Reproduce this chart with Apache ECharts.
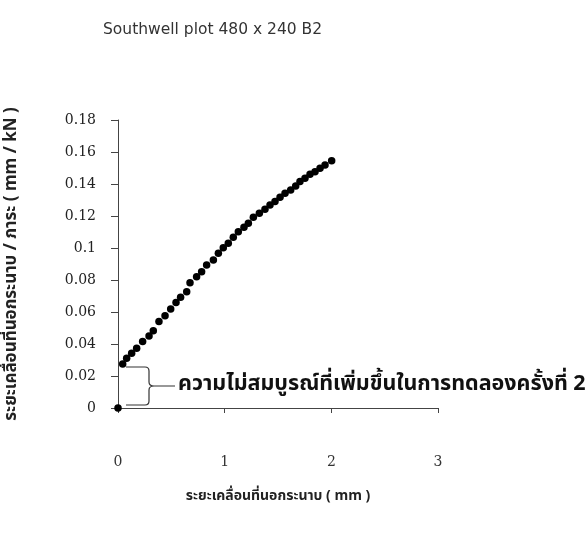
<!DOCTYPE html>
<html>
<head>
<meta charset="utf-8">
<script src="https://cdn.jsdelivr.net/npm/echarts@6/dist/echarts.min.js"></script>
<style>
  html, body { margin: 0; padding: 0; background: #fff; }
  #chart { width: 588px; height: 535px; }
</style>
</head>
<body>
<div id="chart"></div>
<script>
// Out-of-plane displacement (mm)
const displacement = [
  0,
  0.044, 0.081, 0.128, 0.175, 0.231, 0.291, 0.331, 0.384, 0.441, 0.494,
  0.544, 0.587, 0.644, 0.675, 0.737, 0.784, 0.831, 0.894, 0.941, 0.987,
  1.034, 1.081, 1.128, 1.181, 1.222, 1.269, 1.325, 1.378, 1.425, 1.472,
  1.519, 1.566, 1.619, 1.666, 1.706, 1.753, 1.800, 1.847, 1.894, 1.941,
  2.003
];
// Displacement / load (mm/kN)
const ratio = [
  0,
  0.0275, 0.0311, 0.0342, 0.0373, 0.0415, 0.0450, 0.0483, 0.0540, 0.0577, 0.0619,
  0.0660, 0.0692, 0.0727, 0.0783, 0.0821, 0.0852, 0.0894, 0.0925, 0.0967, 0.1002,
  0.1029, 0.1067, 0.1102, 0.1129, 0.1154, 0.1192, 0.1217, 0.1242, 0.1269, 0.1290,
  0.1317, 0.1342, 0.1363, 0.1388, 0.1415, 0.1436, 0.1461, 0.1477, 0.1498, 0.1519,
  0.1546
];
const xTicks = [0, 1, 2, 3];
const yTicks = [0, 0.02, 0.04, 0.06, 0.08, 0.1, 0.12, 0.14, 0.16, 0.18];

const titleText = 'Southwell plot 480 x 240 B2';
const xTitle = 'ระยะเคลื่อนที่นอกระนาบ ( mm )';
const yTitle = 'ระยะเคลื่อนที่นอกระนาบ / ภาระ ( mm / kN )';
const noteText = 'ความไม่สมบูรณ์ที่เพิ่มขึ้นในการทดลองครั้งที่ 2';

const thaiFont = '"Noto Sans Thai", "Noto Serif Thai", Loma, Garuda, "Tlwg Typo", sans-serif';
const serif = '"DejaVu Serif", "Liberation Serif", serif';

const points = displacement.map((x, i) => [x, ratio[i]]);
// brace spans from zero up to the first recorded point after zero
const braceData = [[0, ratio[0], ratio[1]]];

const chart = echarts.init(document.getElementById('chart'));
chart.setOption({
  animation: false,
  backgroundColor: '#ffffff',
  title: {
    text: titleText,
    left: 98,
    top: 17,
    textStyle: { fontFamily: '"DejaVu Sans", sans-serif', fontSize: 15.5, fontWeight: 'normal', color: '#333' }
  },
  grid: { left: 118, right: 150, top: 120, bottom: 127, containLabel: false, outerBoundsMode: 'none' },
  xAxis: {
    type: 'value',
    min: xTicks[0],
    max: xTicks[xTicks.length - 1],
    interval: 1,
    name: xTitle,
    nameLocation: 'middle',
    nameGap: 82,
    nameTextStyle: { fontFamily: thaiFont, fontSize: 14, fontWeight: 'bold', color: '#222' },
    axisLine: { lineStyle: { color: '#444', width: 1 } },
    axisTick: { inside: false, length: 5, lineStyle: { color: '#444' } },
    axisLabel: { margin: 47, fontFamily: serif, fontSize: 14, color: '#333' },
    splitLine: { show: false }
  },
  yAxis: {
    type: 'value',
    min: yTicks[0],
    max: yTicks[yTicks.length - 1],
    interval: 0.02,
    name: yTitle,
    nameLocation: 'middle',
    nameRotate: 90,
    nameGap: 97,
    nameTextStyle: { fontFamily: thaiFont, fontSize: 17, fontWeight: 'bold', color: '#222' },
    axisLine: { show: true, lineStyle: { color: '#444', width: 1 } },
    axisTick: { show: true, inside: false, length: 7, lineStyle: { color: '#444' } },
    axisLabel: { margin: 22, fontFamily: serif, fontSize: 14, color: '#222' },
    splitLine: { show: false }
  },
  series: [
    {
      type: 'scatter',
      data: points,
      symbol: 'circle',
      symbolSize: 7.5,
      itemStyle: { color: '#000', opacity: 1 },
      z: 3
    },
    {
      type: 'custom',
      data: braceData,
      z: 2,
      renderItem: function (params, api) {
        const top = api.coord([api.value(0), api.value(2)]);
        const bot = api.coord([api.value(0), api.value(1)]);
        const x0 = top[0];
        const yT = top[1] + 3;
        const yB = bot[1] - 3;
        const yM = (yT + yB) / 2;
        const bx = x0 + 31;
        const path =
          'M' + (x0 + 8) + ',' + yT +
          ' L' + (bx - 4) + ',' + yT +
          ' Q' + bx + ',' + yT + ' ' + bx + ',' + (yT + 4) +
          ' L' + bx + ',' + (yM - 4) +
          ' Q' + bx + ',' + yM + ' ' + (bx + 5) + ',' + yM +
          ' Q' + bx + ',' + yM + ' ' + bx + ',' + (yM + 4) +
          ' L' + bx + ',' + (yB - 4) +
          ' Q' + bx + ',' + yB + ' ' + (bx - 4) + ',' + yB +
          ' L' + (x0 + 8) + ',' + yB +
          ' M' + (bx + 5) + ',' + yM + ' L' + (bx + 26) + ',' + yM;
        return {
          type: 'group',
          children: [
            {
              type: 'path',
              shape: { pathData: path },
              style: { fill: null, stroke: '#333', lineWidth: 1.2 }
            },
            {
              type: 'text',
              x: bx + 29,
              y: yM,
              style: {
                text: noteText,
                fontFamily: thaiFont,
                fontSize: 21.5,
                fontWeight: 'bold',
                fill: '#111',
                verticalAlign: 'middle',
                align: 'left'
              }
            }
          ]
        };
      }
    }
  ]
});
</script>
</body>
</html>
